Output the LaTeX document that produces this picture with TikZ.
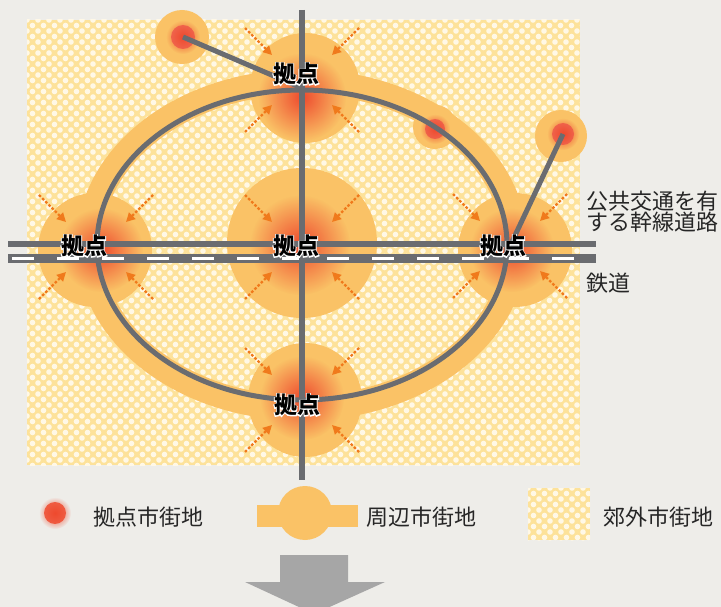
\documentclass[tikz,border=0pt]{standalone}
\usepackage{fontspec}
\newfontfamily\jp{Noto Sans CJK JP}
\newfontfamily\jpo{Noto Sans CJK JP Bold}[FakeBold=9]
\usetikzlibrary{arrows.meta,calc,fadings}
\definecolor{bg}{HTML}{EEEDE9}
\definecolor{chk}{HTML}{FDE29A}
\definecolor{chkw}{HTML}{FFF8E6}
\definecolor{blob}{HTML}{FAC266}
\definecolor{hubred}{HTML}{EE4A2E}
\definecolor{road}{HTML}{6A6C70}
\definecolor{arr}{HTML}{F07A1C}
\definecolor{bigarr}{HTML}{A6A6A6}
\tikzfading[name=glowfade, inner color=transparent!0, outer color=transparent!100]
\tikzset{
  road/.style={draw=road},
  blobfill/.style={fill=blob},
  glow/.style={fill=hubred, path fading=glowfade},
  inarrow/.style={draw=arr, line width=2.3pt, dash pattern=on 2.6pt off 1.9pt, -{Triangle[length=9pt,width=9pt]}},
  lbl/.style={font=\jp\bfseries\fontsize{23}{23}\selectfont, inner sep=0pt, text=black},
  lblhalo/.style={font=\jpo\fontsize{23}{23}\selectfont, inner sep=0pt, text=white},
  lgd/.style={font=\jp\fontsize{22}{22}\selectfont, inner sep=0pt, text=black!85, anchor=west},
}
\newcommand\hublbl[3]{%
  \node[lblhalo] at (#2) {#3};
  \node[lbl] (#1) at (#2) {#3};}
\newcommand\hubarrows[1]{\foreach \sx in {-1,1}{\foreach \sy in {-1,1}{%
  \draw[inarrow] ($(#1)+(\sx*57,\sy*52)$) -- ($(#1)+(\sx*30,\sy*25)$);}}}
\newcommand\checker[4]{%
  \begin{scope}
    \clip (#1,#2) rectangle (#3,#4);
    \fill[chk] (#1,#2) rectangle (#3,#4);
    \pgfmathtruncatemacro\nx{(#3-#1)/11+1}
    \pgfmathtruncatemacro\ny{(#4-#2)/5.5+1}
    \foreach \j in {0,...,\ny}{%
      \pgfmathsetmacro\yy{#2+5.5*\j}%
      \pgfmathsetmacro\xo{#1+5.5*mod(\j,2)}%
      \fill[chkw] \foreach \i in {0,...,\nx}{({\xo+11*\i},\yy) circle (2.8)};}
  \end{scope}}
\begin{document}
\begin{tikzpicture}[x=1pt,y=-1pt]
\useasboundingbox (0,0) rectangle (721,607);
\fill[bg] (0,0) rectangle (721,607);
% suburban checker area
\checker{27}{20}{580}{465}
% coordinates
\coordinate (hT) at (302,88);
\coordinate (aT) at (302,80);
\coordinate (hC) at (302,247);
\coordinate (hL) at (96,247);
\coordinate (hR) at (510,246);
\coordinate (hB) at (302,400);
\coordinate (sTL) at (183,37);
\coordinate (sE) at (435,129);
\coordinate (sR) at (563,134);
% band along ring
\draw[blob, line width=25pt] (302,245) ellipse [x radius=213, y radius=163];
% peripheral blobs
\fill[blobfill] (305,88) circle (55);
\fill[blobfill] (302,243) circle (75);
\fill[blobfill] (95,250) circle (57);
\fill[blobfill] (515,250) circle (57);
\fill[blobfill] (305,400) circle (57);
\fill[blobfill] (182,37) circle (27);
\fill[blobfill] (435,127) circle (22);
\fill[blobfill] (561,136) circle (26);
% red glows
\fill[glow] (302,97) circle (44);
\fill[glow] (300,245) circle (50);
\fill[glow] (101,250) circle (42);
\fill[glow] (512,250) circle (42);
\fill[glow] (302,398) circle (42);
\foreach \p/\r in {sTL/12, sE/10, sR/11}{
  \fill[hubred!80] (\p) circle (\r);
  \fill[glow] (\p) circle ({\r+5});
}
% roads and railway
\draw[road, line width=5.5pt] (8,244) -- (596,244);
\draw[road, line width=9pt] (8,258.5) -- (596,258.5);
\draw[white, line width=3pt, dash pattern=on 22pt off 23pt, dash phase=41pt] (8,258.5) -- (596,258.5);
% ring road
\draw[road, line width=5pt] (302,245) ellipse [x radius=205, y radius=155];
% vertical road
\draw[road, line width=6pt] (302,10) -- (302,480);
% branch roads to satellites
\draw[road, line width=5pt] (sTL) -- (hT);
\draw[road, line width=5pt] (sR) -- (hR);
% inflow arrows
\hubarrows{aT}
\hubarrows{hC}
\hubarrows{hL}
\hubarrows{hR}
\hubarrows{hB}
% hub labels
\hublbl{lT}{296,74}{拠点}
\hublbl{lC}{296,246}{拠点}
\hublbl{lL}{84,246}{拠点}
\hublbl{lR}{503,246}{拠点}
\hublbl{lB}{297,405}{拠点}
% right labels
\node[lgd] (road1) at (586,201) {公共交通を有};
\node[lgd] (road2) at (586,222) {する幹線道路};
\node[lgd] (rail) at (586,283) {鉄道};
% legend
\fill[hubred!85] (55,513) circle (11);
\fill[glow] (55,513) circle (16);
\node[lgd] (lg1) at (93,517) {拠点市街地};
\fill[blobfill] (257,505) rectangle (358,527);
\fill[blobfill] (305,513) circle (27);
\node[lgd] (lg2) at (366,517) {周辺市街地};
\checker{528}{488}{590}{540}
\node[lgd] (lg3) at (603,517) {郊外市街地};
% big down arrow
\fill[bigarr] (280,555) -- (348,555) -- (348,582) -- (385,582) -- (314,614) -- (245,582) -- (280,582) -- cycle;
\end{tikzpicture}
\end{document}
